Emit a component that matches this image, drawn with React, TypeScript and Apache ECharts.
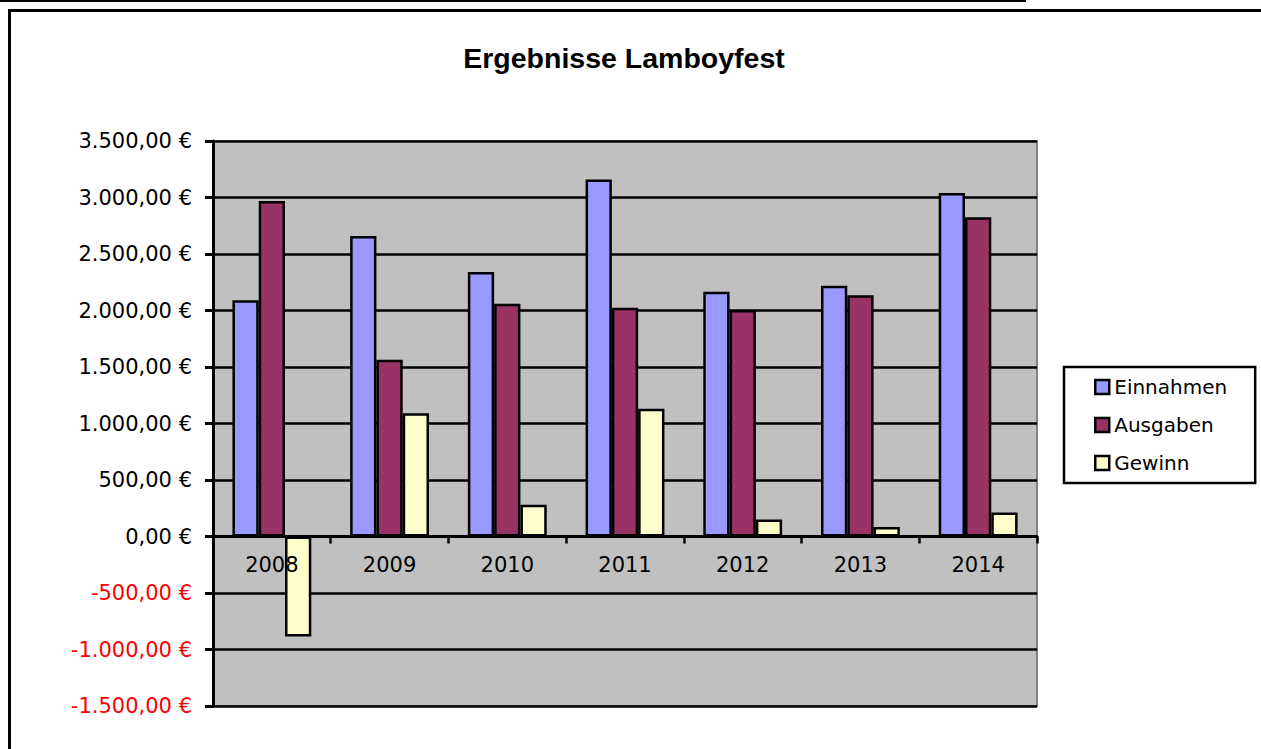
import React, { useEffect, useRef } from "react";
import * as echarts from "echarts";

const years = ["2008", "2009", "2010", "2011", "2012", "2013", "2014"];
const einnahmen = [2090, 2660, 2340, 3160, 2165, 2220, 3040];
const ausgaben = [2970, 1565, 2060, 2025, 2005, 2135, 2825];
const gewinn = [-885, 1090, 280, 1130, 150, 85, 212];
const seriesNames = ["Einnahmen", "Ausgaben", "Gewinn"];
const seriesColors = ["#9999FF", "#993366", "#FFFFCC"];
const yMin = -1500;
const yMax = 3500;
const yStep = 500;
const title = "Ergebnisse Lamboyfest";

const FONT = "DejaVu Sans";

function fmtEuro(v: number): string {
  const neg = v < 0;
  const a = Math.abs(v);
  const int = Math.floor(a).toString().replace(/\B(?=(\d{3})+(?!\d))/g, ".");
  return (neg ? "-" : "") + int + ",00 €";
}

export default function App() {
  const ref = useRef<HTMLDivElement>(null);
  useEffect(() => {
    document.body.style.margin = "0";
    const chart = echarts.init(ref.current!, undefined, { renderer: "svg" });
    const data = [einnahmen, ausgaben, gewinn];
    chart.setOption({
      animation: false,
      backgroundColor: "#ffffff",
      graphic: [
        { type: "rect", shape: { x: 0, y: 0, width: 1026, height: 2 }, style: { fill: "#000" } },
        {
          type: "rect",
          shape: { x: 9.5, y: 10.5, width: 1300, height: 800 },
          style: { fill: "none", stroke: "#000", lineWidth: 3 },
        },
        {
          type: "text",
          x: 624,
          y: 58,
          style: {
            text: title,
            font: "bold 28.5px 'Liberation Sans'",
            fill: "#000",
            textAlign: "center",
            textVerticalAlign: "middle",
          },
        },
      ],
      grid: {
        left: 213,
        right: 224,
        top: 141,
        bottom: 43,
        show: true,
        backgroundColor: "#C0C0C0",
        borderColor: "#808080",
        borderWidth: 2,
      },
      legend: {
        orient: "vertical",
        left: 1064,
        top: 367,
        itemWidth: 14,
        itemHeight: 14,
        itemGap: 18,
        padding: [10, 28, 10, 30],
        borderColor: "#000",
        borderWidth: 2.5,
        backgroundColor: "#fff",
        icon: "rect",
        itemStyle: { borderColor: "#000", borderWidth: 2.5 },
        textStyle: { fontFamily: FONT, fontSize: 20, lineHeight: 20, color: "#000" },
        data: seriesNames,
      },
      xAxis: {
        type: "category",
        data: years,
        z: 5,
        axisLine: { onZero: true, lineStyle: { color: "#000", width: 3 } },
        axisTick: { show: true, length: 7, lineStyle: { color: "#000", width: 2.5 } },
        axisLabel: { fontFamily: FONT, fontSize: 21, lineHeight: 21, color: "#000", margin: -152 },
        splitLine: { show: false },
      },
      yAxis: {
        type: "value",
        min: yMin,
        max: yMax,
        interval: yStep,
        axisLine: { show: true, lineStyle: { color: "#000", width: 3 } },
        axisTick: { show: true, length: 8, lineStyle: { color: "#000", width: 3 } },
        axisLabel: {
          margin: 21,
          formatter: (v: number) => (v < 0 ? `{r|${fmtEuro(v)}}` : `{b|${fmtEuro(v)}}`),
          rich: {
            r: { fontFamily: FONT, fontSize: 21, color: "#FF0000" },
            b: { fontFamily: FONT, fontSize: 21, color: "#000" },
          },
        },
        splitLine: { show: true, lineStyle: { color: "#000", width: 2.5 } },
      },
      series: seriesNames.map((name, i) => ({
        name,
        type: "bar",
        data: data[i],
        barGap: "0%",
        barCategoryGap: "33%",
        itemStyle: { color: seriesColors[i], borderColor: "#000", borderWidth: 2.5 },
      })),
    });
    return () => chart.dispose();
  }, []);
  return <div ref={ref} style={{ width: 1261, height: 749 }} />;
}
